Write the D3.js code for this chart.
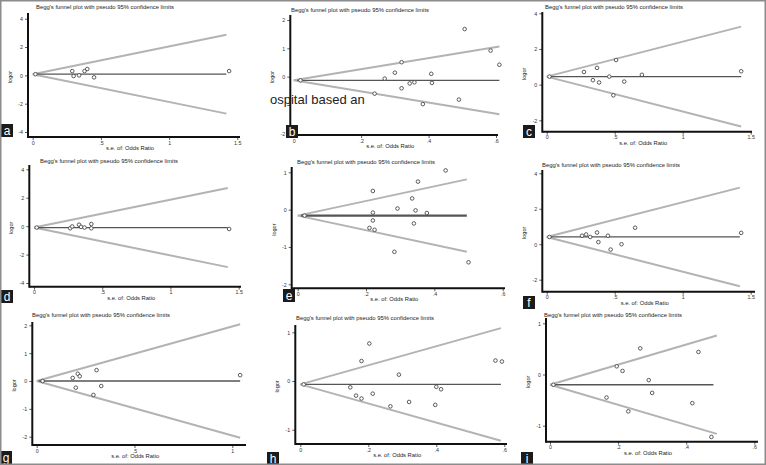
<!DOCTYPE html>
<html><head><meta charset="utf-8">
<script src="https://cdn.jsdelivr.net/npm/d3@7/dist/d3.min.js"></script>
<style>body{margin:0;background:#fff}svg{display:block}text{font-family:"Liberation Sans",Arial,sans-serif}</style>
</head><body><svg id="c" width="766" height="465"></svg>
<script>
// ---- data ----
const letters = ["a","b","c","d","e","f","g","h","i"];
const titleText = "Begg's funnel plot with pseudo 95% confidence limits";
const xLabelText = "s.e. of: Odds Ratio";
const yLabelText = "logor";
const thetas = [0.08, -0.13, 0.45, -0.1, -0.16, 0.41, 0.0, -0.07, -0.2];
const funnelEnd = [1.42, 0.61, 1.43, 1.42, 0.495, 1.42, 1.04, 0.59, 0.49];
const lineEnd = [1.42, 0.61, 1.43, 1.42, 0.495, 1.42, 1.04, 0.59, 0.48];
const xTicks = [[0,0.5,1,1.5],[0,0.2,0.4,0.6],[0,0.5,1,1.5],[0,0.5,1,1.5],[0,0.2,0.4,0.6],[0,0.5,1,1.5],[0,0.5,1],[0,0.2,0.4,0.6],[0,0.2,0.4,0.6]];
const yTicks = [[-4,-2,0,2,4],[-2,-1,0,1,2],[-2,0,2,4],[-4,-2,0,2,4],[-2,-1,0,1],[-2,0,2,4],[-2,-1,0,1,2],[-1,0,1],[-1,0,1]];
// tick labels hidden under the stray overlay text (panel index, value)
const hiddenTickLabels = [[1,-1]];
const seA = [0.02,0.29,0.30,0.34,0.38,0.40,0.45,1.44];
const lorA = [0.08,0.30,-0.05,0.0,0.3,0.45,-0.14,0.3];
const seB = [0.02,0.24,0.27,0.30,0.32,0.32,0.344,0.358,0.383,0.408,0.41,0.49,0.507,0.584,0.61];
const lorB = [-0.13,-0.6,-0.07,0.14,0.51,-0.41,-0.24,-0.2,-0.97,0.1,-0.22,-0.81,1.68,0.92,0.42];
const seC = [0.02,0.274,0.34,0.37,0.385,0.46,0.49,0.51,0.57,0.70,1.43];
const lorC = [0.45,0.71,0.25,0.94,0.12,0.45,-0.6,1.38,0.17,0.55,0.75];
const seD = [0.02,0.265,0.28,0.33,0.345,0.37,0.42,0.42,1.43];
const lorD = [-0.1,-0.15,-0.02,0.1,-0.05,-0.1,0.15,-0.15,-0.2];
const seE = [0.02,0.21,0.22,0.22,0.22,0.225,0.283,0.292,0.335,0.34,0.345,0.352,0.378,0.433,0.5];
const lorE = [-0.16,-0.49,0.5,-0.08,-0.29,-0.54,-1.13,0.03,0.3,-0.37,-0.02,0.75,-0.09,1.05,-1.41];
const seF = [0.02,0.26,0.29,0.32,0.37,0.38,0.45,0.47,0.55,0.65,1.43];
const lorF = [0.41,0.48,0.55,0.41,0.66,0.12,0.48,-0.3,0.0,0.93,0.64];
const seG = [0.03,0.184,0.2,0.21,0.22,0.29,0.306,0.33,1.04];
const lorG = [0.0,0.11,-0.24,0.26,0.17,-0.5,0.39,-0.18,0.21];
const seH = [0.01,0.147,0.164,0.18,0.18,0.203,0.213,0.265,0.29,0.32,0.397,0.4,0.414,0.574,0.593];
const lorH = [-0.07,-0.13,-0.3,0.41,-0.36,0.77,-0.26,-0.52,0.13,-0.43,-0.49,-0.12,-0.17,0.42,0.4];
const seI = [0.01,0.166,0.196,0.213,0.23,0.265,0.29,0.3,0.418,0.436,0.474];
const lorI = [-0.2,-0.45,0.16,0.07,-0.72,0.51,-0.11,-0.36,-0.56,0.44,-1.22];
const seAll = [seA,seB,seC,seD,seE,seF,seG,seH,seI];
const lorAll = [lorA,lorB,lorC,lorD,lorE,lorF,lorG,lorH,lorI];
const overlayText = "ospital based an";

// ---- layout (pixels) ----
const layout = [
  {ax:28, top:13, ay:137, right:240, x0:32.7, x1:237.3, y0:132, y1:18.7, tx:36, ty:8.5, bx:1, by:124},
  {ax:290.3, top:15, ay:135, right:498, x0:293.7, x1:496, y0:133.3, y1:20, tx:291, ty:12, bx:286, by:125},
  {ax:542.3, top:12, ay:131.7, right:752, x0:546.7, x1:750.7, y0:120.3, y1:13.3, tx:545, ty:9, bx:523, by:125},
  {ax:29.3, top:165, ay:286.7, right:241, x0:34, x1:238.7, y0:283, y1:169.3, tx:40, ty:162.5, bx:1, by:290},
  {ax:291.7, top:167, ay:288.3, right:505, x0:297.7, x1:502.7, y0:284.3, y1:172.3, tx:297, ty:163.5, bx:283, by:289},
  {ax:542.3, top:170, ay:291.7, right:755, x0:546.7, x1:750.7, y0:279.7, y1:173.3, tx:542, ty:167, bx:523, by:296},
  {ax:32.3, top:322, ay:445, right:246, x0:36.7, x1:232.3, y0:436.7, y1:325.3, tx:32, ty:316.5, bx:0, by:451},
  {ax:295.3, top:325, ay:444, right:507, x0:300.3, x1:504.3, y0:429.7, y1:332.3, tx:296, ty:319.5, bx:267, by:452},
  {ax:546, top:318, ay:441.7, right:758, x0:550, x1:754.3, y0:425.7, y1:323.3, tx:544, ty:316.5, bx:521, by:452}
];

const svg = d3.select("#c");
svg.append("rect").attr("x",0).attr("y",0).attr("width",766).attr("height",465).attr("fill","#fff");

const fmtBase = v => { if (v===0) return "0"; let s = String(Math.abs(v)); if (s.startsWith("0.")) s = s.slice(1); return (v<0?"-":"")+s; };

letters.forEach((L,i) => {
  const g0 = layout[i];
  const xt = xTicks[i], yt = yTicks[i];
  const x = d3.scaleLinear().domain([0, xt[xt.length-1]]).range([g0.x0, g0.x1]);
  const y = d3.scaleLinear().domain([yt[0], yt[yt.length-1]]).range([g0.y0, g0.y1]);
  const g = svg.append("g");
  const yFmt = v => hiddenTickLabels.some(h => h[0]===i && h[1]===v) ? "" : fmtBase(v);

  g.append("text").attr("x", g0.tx).attr("y", g0.ty).attr("font-size", 5.6).attr("fill","#222")
    .attr("textLength", 138).attr("lengthAdjust","spacingAndGlyphs").text(titleText);

  const th = thetas[i], fe = funnelEnd[i];
  const line = d3.line().x(d=>x(d[0])).y(d=>y(d[1]));
  g.append("path").attr("d", line([[0,th],[fe, th+1.96*fe]])).attr("stroke","#b3b3b3").attr("stroke-width",2).attr("fill","none");
  g.append("path").attr("d", line([[0,th],[fe, th-1.96*fe]])).attr("stroke","#b3b3b3").attr("stroke-width",2).attr("fill","none");
  g.append("path").attr("d", line([[0.01,th],[lineEnd[i], th]])).attr("stroke","#555").attr("stroke-width", i===4?2.2:1.3).attr("fill","none");

  const pts = seAll[i].map((s,k)=>[s, lorAll[i][k]]);
  g.selectAll("circle.p").data(pts).enter().append("circle")
    .attr("cx", d=>x(d[0])).attr("cy", d=>y(d[1])).attr("r", 1.8)
    .attr("fill","#fff").attr("stroke","#4a4a4a").attr("stroke-width",0.9);

  const xa = g.append("g").attr("transform", `translate(0,${g0.ay})`)
    .call(d3.axisBottom(x).tickValues(xt).tickFormat(fmtBase).tickSize(3).tickSizeOuter(0));
  xa.select(".domain").remove();
  const ya = g.append("g").attr("transform", `translate(${g0.ax},0)`)
    .call(d3.axisLeft(y).tickValues(yt).tickFormat(yFmt).tickSize(3).tickSizeOuter(0));
  ya.select(".domain").remove();
  [xa, ya].forEach(a => {
    a.selectAll("line").attr("stroke","#333").attr("stroke-width",0.8);
    a.selectAll("text").attr("font-size",5.3).attr("fill","#333").style("font-family",'"Liberation Sans",Arial,sans-serif');
  });
  xa.selectAll("text").attr("dy","0.9em").attr("y",3);
  ya.selectAll("text").attr("x",-5).attr("dy","0.35em");
  g.append("line").attr("x1",g0.ax).attr("x2",g0.right).attr("y1",g0.ay).attr("y2",g0.ay).attr("stroke","#111").attr("stroke-width",2);
  g.append("line").attr("x1",g0.ax).attr("x2",g0.ax).attr("y1",g0.top).attr("y2",g0.ay+1).attr("stroke","#111").attr("stroke-width",2);

  g.append("text").attr("x", (g0.ax+g0.right)/2 - 4).attr("y", g0.ay+13).attr("text-anchor","middle")
    .attr("font-size",5.8).attr("fill","#222").text(xLabelText);
  const ly = (g0.top + g0.ay)/2 + 2;
  g.append("text").attr("transform", `translate(${g0.ax-16},${ly}) rotate(-90)`).attr("text-anchor","middle")
    .attr("font-size",5.5).attr("fill","#222").text(yLabelText);

  g.append("rect").attr("x", g0.bx).attr("y", g0.by).attr("width", 12).attr("height", 13).attr("fill","#1b1b1b");
  g.append("text").attr("x", g0.bx+6).attr("y", g0.by+10.5).attr("text-anchor","middle").attr("font-size",12)
    .attr("fill","#fff").text(L);
});

svg.append("text").attr("x",270).attr("y",104).attr("font-size",13).attr("fill","#222").text(overlayText);

svg.append("rect").attr("x",0.75).attr("y",0.75).attr("width",764.5).attr("height",463.5).attr("fill","none").attr("stroke","#8c8c8c").attr("stroke-width",1.5);
</script></body></html>
